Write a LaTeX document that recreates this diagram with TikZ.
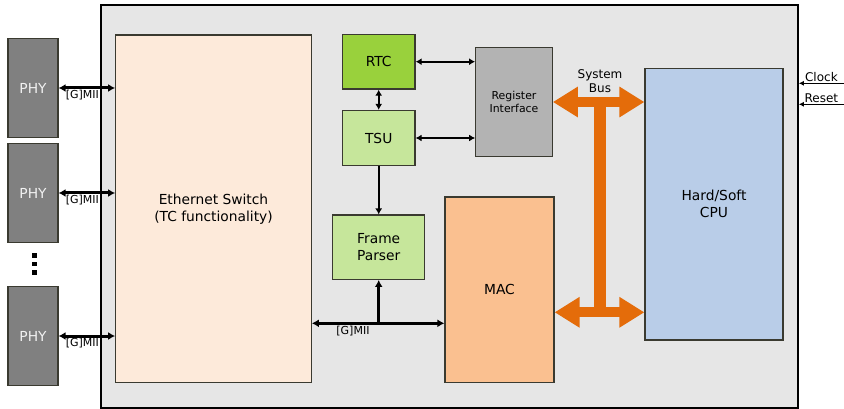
\documentclass[tikz,border=0pt]{standalone}
\usepackage{fontspec}
\setmainfont{DejaVu Sans}
\usetikzlibrary{arrows.meta}
\definecolor{fpgagray}{HTML}{E6E6E6}
\definecolor{edgegray}{HTML}{3A3A30}
\definecolor{phygray}{HTML}{808080}
\definecolor{phytext}{HTML}{F2F2F2}
\definecolor{switchpeach}{HTML}{FDEADA}
\definecolor{rtcgreen}{HTML}{99D13C}
\definecolor{tsugreen}{HTML}{C6E69B}
\definecolor{reggray}{HTML}{B3B3B3}
\definecolor{macorange}{HTML}{FAC090}
\definecolor{cpublue}{HTML}{B9CDE8}
\definecolor{busorange}{HTML}{E46C0A}

\begin{document}
\begin{tikzpicture}[
    x=1pt, y=-1pt,
    % node styles
    block/.style={draw=edgegray, line width=1.2pt, inner sep=0pt, align=center,
        font=\fontsize{13.8}{16.7}\selectfont},
    phy block/.style={block, fill=phygray, text=phytext, minimum width=50pt, minimum height=99pt},
    link label/.style={font=\fontsize{11}{13}\selectfont, inner sep=1pt},
    side label/.style={font=\fontsize{12}{14}\selectfont, inner sep=1pt},
    % edge styles
    gmii link/.style={line width=3pt, {Latex[length=7pt,width=8pt]}-{Latex[length=7pt,width=8pt]}},
    ctrl link/.style={line width=2pt, {Latex[length=6pt,width=7pt]}-{Latex[length=6pt,width=7pt]}},
    in link/.style={line width=1.5pt, -{Latex[length=5pt,width=5pt]}},
    sys bus/.style={line width=10pt, busorange, {Triangle[length=25pt,width=29pt]}-{Triangle[length=25pt,width=29pt]}}
]
\useasboundingbox (0,0) rectangle (844,409);

% FPGA frame
\node[draw=black, line width=1.6pt, fill=fpgagray, minimum width=697pt, minimum height=403pt,
    inner sep=0pt] (fpga) at (449.5,206.5) {};

% PHY chips
\node[phy block] (phyA) at (33,88) {PHY};
\node[phy block] (phyB) at (33,193) {PHY};
\node[phy block] (phyC) at (33,336) {PHY};
\foreach \y in {255.5,264,272.5} {
    \fill (32.3,\y-2.2) rectangle (36.7,\y+2.2);
}

% Blocks inside the FPGA
\node[block, fill=switchpeach, minimum width=195.6pt, minimum height=347.7pt] (switch) at (213.5,208.9)
    {Ethernet Switch\\(TC functionality)};
\node[block, fill=rtcgreen, minimum width=72.7pt, minimum height=54.7pt] (rtc) at (378.7,61.7) {RTC};
\node[block, fill=tsugreen, minimum width=72.7pt, minimum height=55pt] (tsu) at (378.7,138) {TSU};
\node[block, fill=reggray, minimum width=76.6pt, minimum height=109.4pt,
    font=\fontsize{10.9}{13.5}\selectfont] (regif) at (514,102) {Register\\Interface};
\node[block, fill=tsugreen, minimum width=92pt, minimum height=64.3pt] (parser) at (378.7,247.2)
    {Frame\\Parser};
\node[block, fill=macorange, minimum width=109pt, minimum height=185.5pt] (mac) at (499.5,289.8) {MAC};
\node[block, fill=cpublue, minimum width=138pt, minimum height=271.7pt] (cpu) at (714,204.2)
    {Hard/Soft\\CPU};

% PHY links
\foreach \p in {phyA,phyB,phyC} {
    \draw[gmii link] (\p.east) -- (\p.east -| switch.west)
        node[link label, below, pos=0.42] {[G]MII};
}

% Timestamp links
\draw[ctrl link] (rtc.south) -- (tsu.north);
\draw[ctrl link] (rtc.east) -- (rtc.east -| regif.west);
\draw[ctrl link] (tsu.east) -- (tsu.east -| regif.west);
\draw[line width=2pt, -{Latex[length=6pt,width=7pt]}] (tsu.south) -- (parser.north);

% MAC link with tap to the frame parser
\coordinate (gmiibus) at (378.7,323.3);
\draw[gmii link] (gmiibus -| switch.east) -- (gmiibus -| mac.west)
    node[link label, below, pos=0.31] {[G]MII};
\draw[line width=3pt, -{Latex[length=7pt,width=8pt]}] (gmiibus) -- (parser.south);

% System bus
\coordinate (busx) at (600,0);
\coordinate (busbot) at (0,312.3);
\draw[line width=12pt, busorange] (busx |- regif.east) -- (busx |- busbot);
\draw[sys bus] (regif.east) -- (regif.east -| cpu.west);
\draw[sys bus] (busbot -| mac.east) -- (busbot -| cpu.west);
\node[side label, align=center] (buslabel) at (600,81) {System\\Bus};

% Clock and reset inputs
\coordinate (clk) at (844,83.3);
\coordinate (rst) at (844,104.3);
\draw[in link] (clk) -- (clk -| fpga.east) node[side label, above, midway] {Clock};
\draw[in link] (rst) -- (rst -| fpga.east) node[side label, above, midway] {Reset};

\end{tikzpicture}
\end{document}
